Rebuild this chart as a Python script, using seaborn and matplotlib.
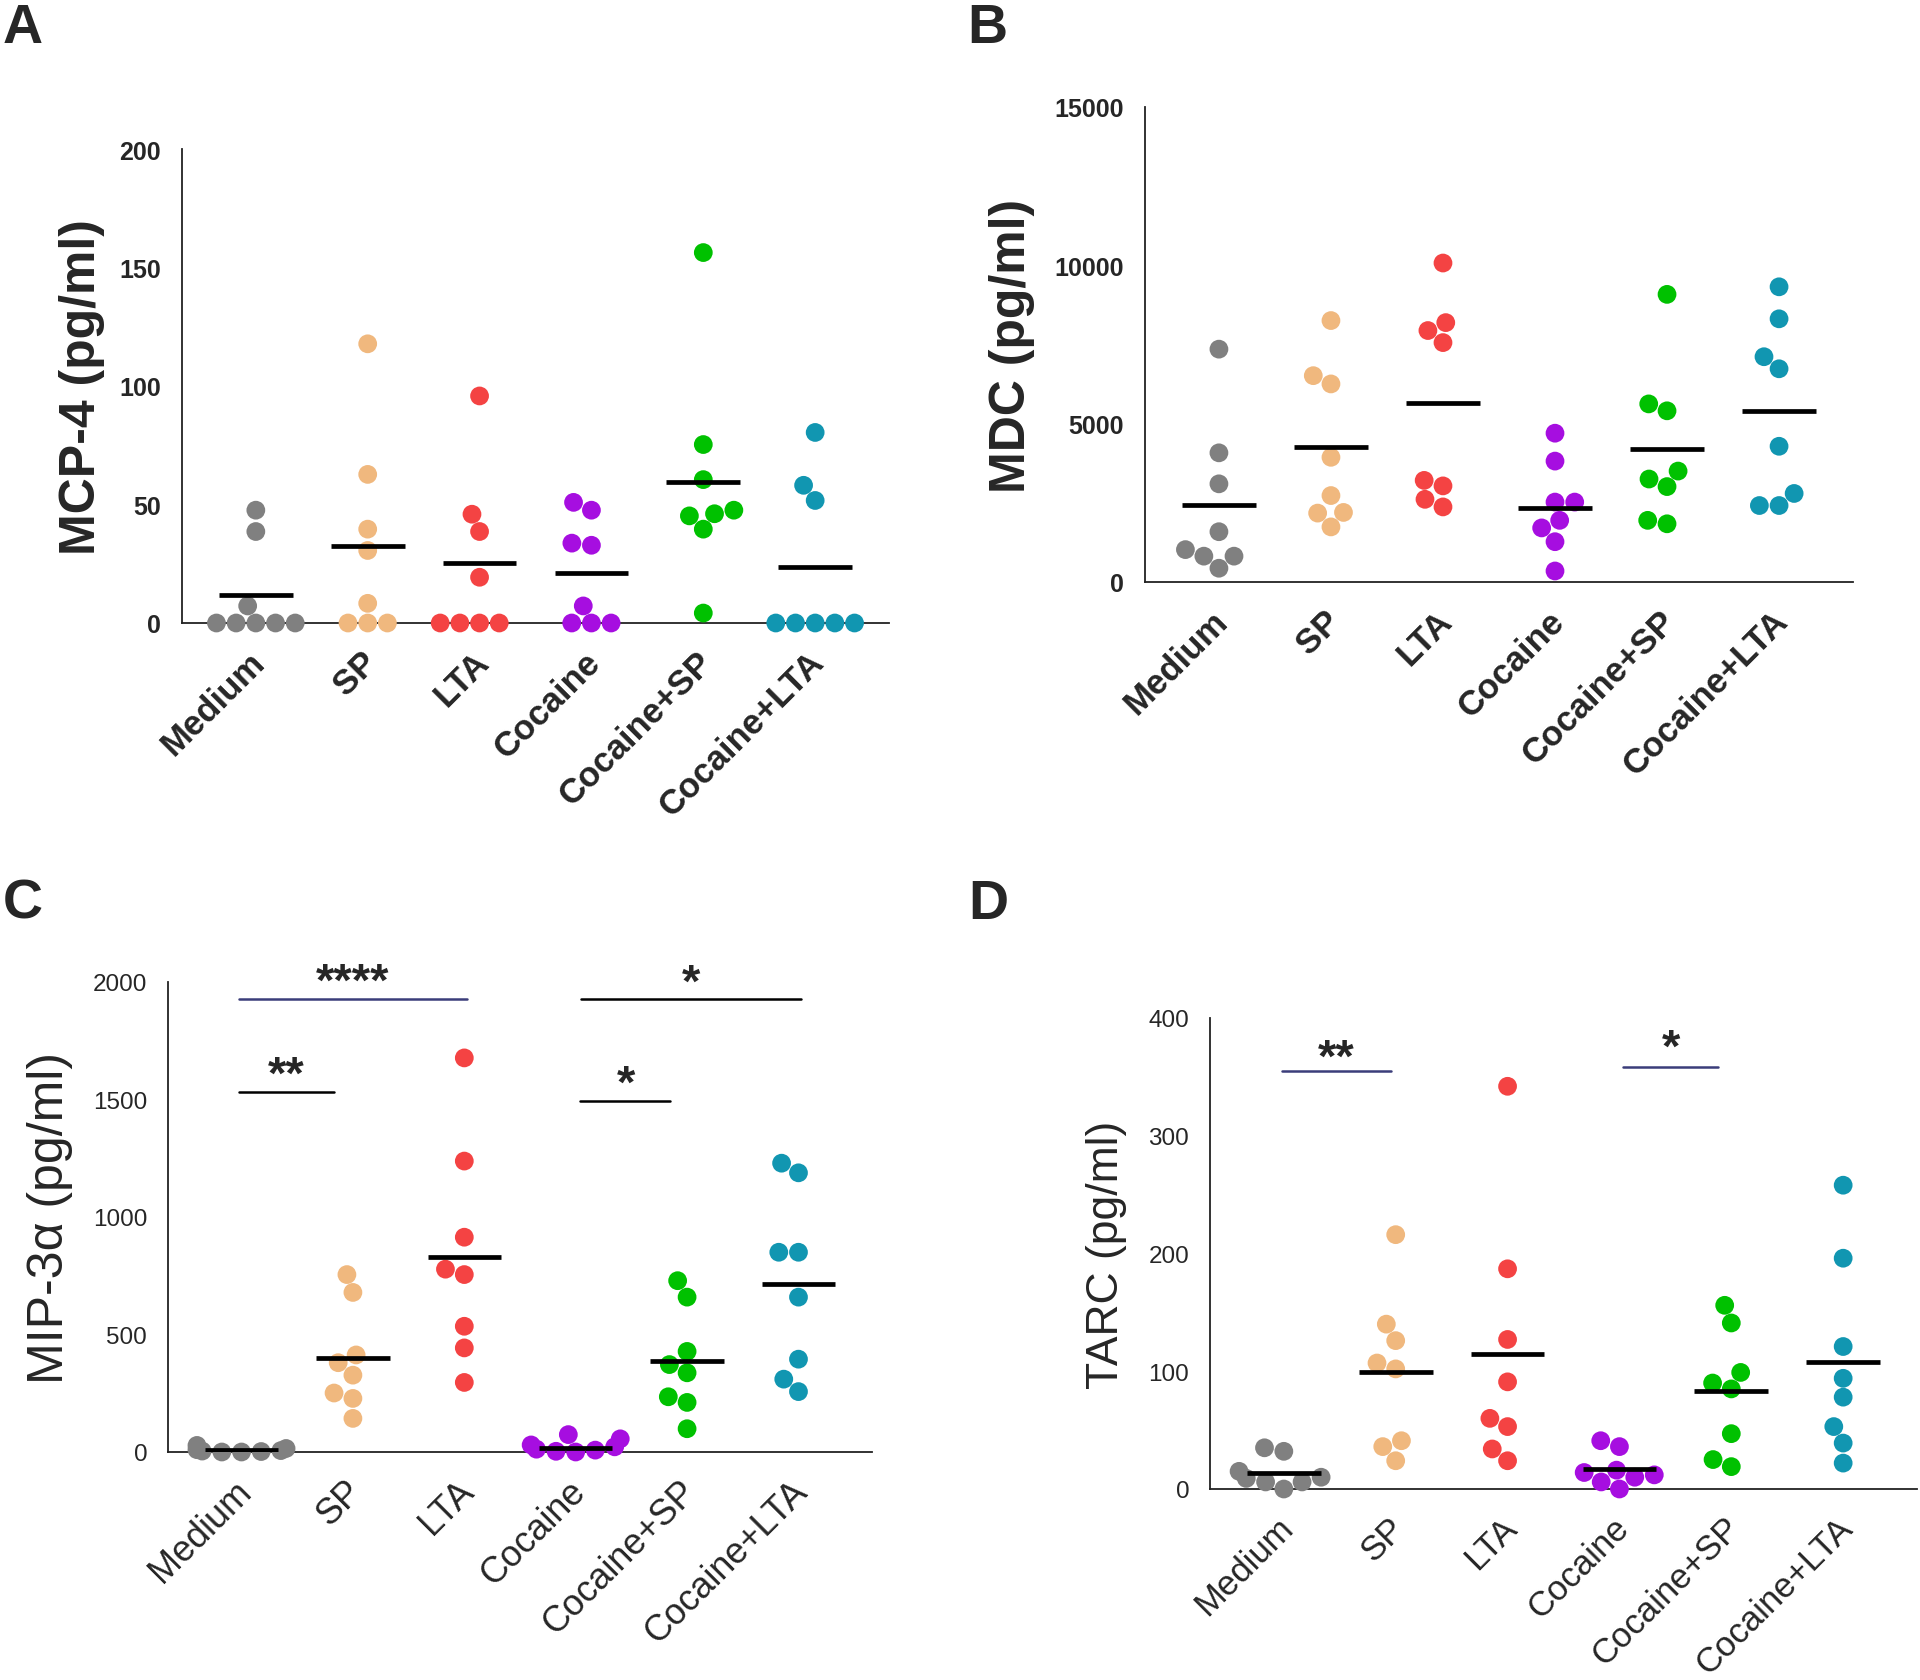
import warnings
warnings.filterwarnings('ignore')
import numpy as np
import pandas as pd
import matplotlib
matplotlib.use('Agg')
import matplotlib.pyplot as plt
from matplotlib.transforms import ScaledTranslation
import seaborn as sns

# ---------------- data ----------------
groups = ['Medium', 'SP', 'LTA', 'Cocaine', 'Cocaine+SP', 'Cocaine+LTA']
palette = ['#808080', '#F0B87E', '#F44343', '#A60EE0', '#00C100', '#1196B1']

mcp4_values = [
    [47.6, 38.6, 7.2, 0, 0, 0, 0, 0],
    [117.8, 62.7, 39.6, 30.6, 8.3, 0, 0, 0],
    [95.8, 45.9, 38.6, 19.3, 0, 0, 0, 0],
    [50.9, 47.6, 33.7, 32.8, 7.2, 0, 0, 0],
    [156.3, 75.3, 60.5, 47.6, 46.1, 45.2, 39.6, 4.2],
    [80.4, 58.1, 51.7, 0, 0, 0, 0, 0],
]
mcp4_means = [12, 32.7, 25.2, 21.2, 59.5, 23.8]

mdc_values = [
    [7353, 4079, 3100, 1588, 1023, 816, 816, 435],
    [8256, 6516, 6255, 3938, 2730, 2197, 2176, 1740],
    [10073, 8191, 7941, 7560, 3209, 3035, 2611, 2371],
    [4699, 3818, 2524, 2524, 1947, 1708, 1273, 348],
    [9083, 5624, 5406, 3503, 3252, 3013, 1947, 1838],
    [9322, 8311, 7114, 6733, 4286, 2796, 2415, 2415],
]
mdc_means = [2426, 4253, 5656, 2328, 4199, 5406]

mip3a_values = [
    [28, 15, 10, 6, 4, 2, 0, 0],
    [755, 679, 413, 380, 327, 251, 228, 143],
    [1677, 1238, 914, 778, 755, 535, 443, 296],
    [74, 56, 30, 22, 12, 8, 3, 0],
    [729, 659, 428, 372, 337, 235, 211, 99],
    [1229, 1188, 850, 850, 659, 395, 310, 257],
]
mip3a_means = [8, 398, 831, 18, 386, 717]

tarc_values = [
    [35, 32, 15, 10, 9, 6, 6, 0],
    [216, 140, 126, 107, 102, 41, 36, 24],
    [342, 187, 127, 91, 60, 53, 34, 24],
    [41, 36, 16, 14, 12, 10, 6, 0],
    [156, 141, 99, 90, 85, 47, 25, 19],
    [258, 196, 121, 94, 78, 53, 39, 22],
]
tarc_means = [14, 99, 115, 17, 83, 108]

mcp4_ticks = [0, 50, 100, 150, 200]
mdc_ticks = [0, 5000, 10000, 15000]
mip3a_ticks = [0, 500, 1000, 1500, 2000]
tarc_ticks = [0, 100, 200, 300, 400]

# significance brackets: (x_start, x_end, y_line, label, y_text, x_text, colour)
mip3a_sig = [
    (-0.02, 2.02, 1928, '****', 1904, 1.0, '#3b3d7a'),
    (-0.02, 0.83, 1534, '**', 1506, 0.40, 'black'),
    (3.04, 3.85, 1495, '*', 1469, 3.45, 'black'),
    (3.05, 5.02, 1928, '*', 1899, 4.04, 'black'),
]
tarc_sig = [
    (-0.02, 0.96, 355, '**', 347, 0.47, '#3b3d7a'),
    (3.03, 3.88, 358, '*', 355, 3.46, '#3b3d7a'),
]

# ---------------- style ----------------
sns.set_style('white')
plt.rcParams['font.family'] = ['Liberation Sans', 'DejaVu Sans']

W, H = 1920, 1681
fig = plt.figure(figsize=(W / 100, H / 100), dpi=100)
label_shift = ScaledTranslation(4 / 100, 0, fig.dpi_scale_trans)


def px_axes(left, right, top, bottom):
    return fig.add_axes([left / W, 1 - bottom / H, (right - left) / W, (bottom - top) / H])


def make_df(values):
    rows = []
    for g, vals in zip(groups, values):
        for v in vals:
            rows.append((g, v))
    return pd.DataFrame(rows, columns=['group', 'value'])


def draw_panel(ax, values, means, ticks, ylabel, bold, label_x, label_size,
               tick_size, xlab_size, sig=None):
    df = make_df(values)
    sns.swarmplot(data=df, x='group', y='value', hue='group', order=groups,
                  hue_order=groups, palette=palette, size=13.5, ax=ax,
                  legend=False, clip_on=False, zorder=3, linewidth=0)
    pos = np.arange(len(groups))
    ax.hlines(means, pos - 0.33, pos + 0.33, color='black', lw=3.4, zorder=4)
    ax.set_xlim(-0.66, 5.66)
    ax.set_ylim(ticks[0], ticks[-1])
    for s in ['top', 'right']:
        ax.spines[s].set_visible(False)
    for s in ['left', 'bottom']:
        ax.spines[s].set_color('#222222')
        ax.spines[s].set_linewidth(1.3)
    ax.tick_params(axis='both', direction='out', length=13, width=1.2, color='#222222')
    ax.tick_params(axis='y', pad=2)
    ax.tick_params(axis='x', pad=11)
    ax.grid(False)
    ax.set_yticks(ticks)
    weight = 'bold' if bold else 'normal'
    ax.set_yticklabels([str(t) for t in ticks], fontsize=tick_size, fontweight=weight)
    ax.set_xticks(pos)
    ax.set_xticklabels(groups, rotation=45, ha='right', va='center',
                       rotation_mode='anchor', fontsize=xlab_size, fontweight=weight)
    ax.set_xlabel('')
    ax.set_ylabel(ylabel, fontsize=label_size, fontweight=weight)
    ax.yaxis.set_label_coords(label_x, 0.5)
    ax.yaxis.label.set_va('center')
    if sig:
        for x0, x1, yl, lab, yt, xt, col in sig:
            ax.plot([x0, x1], [yl, yl], color=col, lw=1.8, clip_on=False, zorder=5)
            ax.text(xt, yt, lab, ha='center', va='bottom', fontsize=34,
                    fontweight='bold', clip_on=False)


axA = px_axes(182, 889, 150, 624)
draw_panel(axA, mcp4_values, mcp4_means, mcp4_ticks, 'MCP-4 (pg/ml)', True,
           -0.141, 36, 18, 25)
axB = px_axes(1145, 1853, 108, 583)
draw_panel(axB, mdc_values, mdc_means, mdc_ticks, 'MDC (pg/ml)', True,
           -0.188, 36, 18, 25)
axC = px_axes(168, 872, 983, 1453)
draw_panel(axC, mip3a_values, mip3a_means, mip3a_ticks, 'MIP-3\u03b1 (pg/ml)', False,
           -0.168, 36, 17.5, 26, sig=mip3a_sig)
axD = px_axes(1210, 1917, 1019, 1490)
draw_panel(axD, tarc_values, tarc_means, tarc_ticks, 'TARC (pg/ml)', False,
           -0.146, 32, 17.5, 25, sig=tarc_sig)

for ax in (axA, axB, axC, axD):
    for lab in ax.get_xticklabels():
        lab.set_transform(lab.get_transform() + label_shift)

for lab, x, y in [('A', 3, 3), ('B', 967, 3), ('C', 3, 879), ('D', 968, 879)]:
    fig.text(x / W, 1 - y / H, lab, ha='left', va='top', fontsize=40,
             fontweight='bold')

fig.savefig('out.png', dpi=100)
